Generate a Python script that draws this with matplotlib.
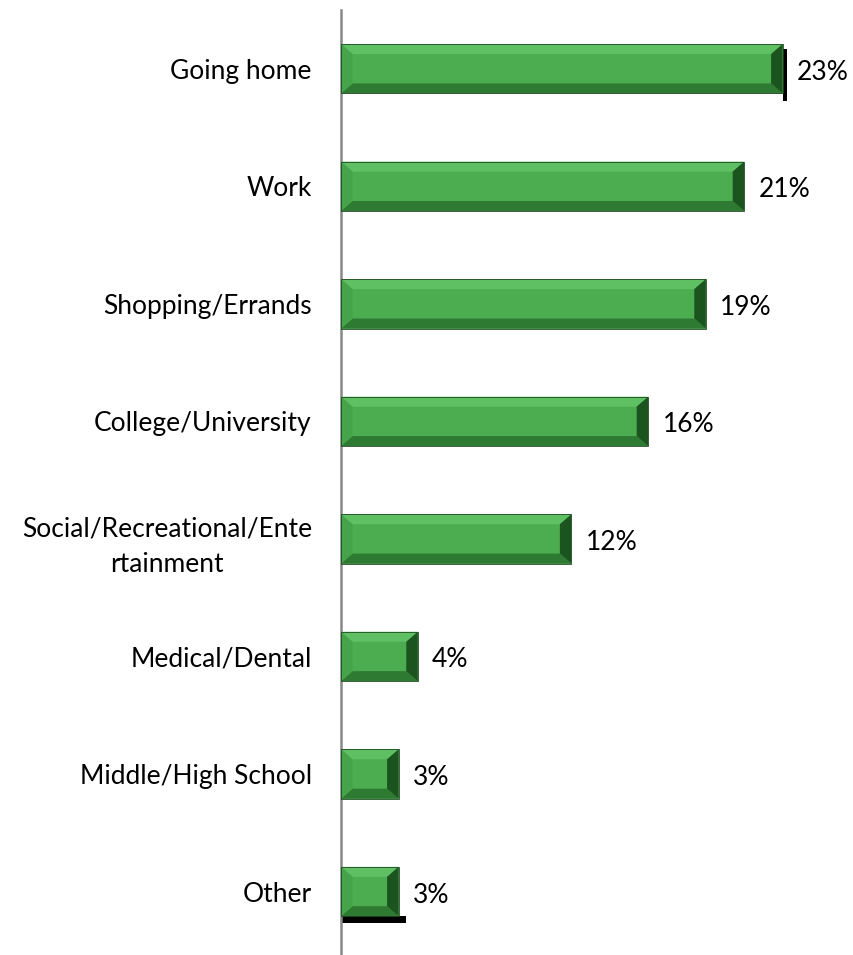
import numpy as np
import matplotlib.pyplot as plt
from matplotlib.patches import Polygon, Rectangle

# trip purposes, top to bottom
categories = ['Going home', 'Work', 'Shopping/Errands', 'College/University',
              'Social/Recreational/Ente\nrtainment', 'Medical/Dental',
              'Middle/High School', 'Other']
values = [23, 21, 19, 16, 12, 4, 3, 3]

plt.rcParams['font.family'] = ['Lato', 'DejaVu Sans']

fig = plt.figure(figsize=(8.54, 9.55), dpi=100)
ax = fig.add_axes([341 / 854, 0.0, 1 - 341 / 854, 945 / 955])

n = len(categories)
ypos = np.arange(n)
h = 0.42
bx = 0.6       # bevel width along x (in %)
by = 0.085     # bevel width along y

face = '#4cac50'
top_c = '#5fbf63'
bot_c = '#2e7a32'
left_c = '#45a449'
right_c = '#1c5420'

for y, v in zip(ypos, values):
    x0, x1 = 0, v
    y0, y1 = y + h / 2, y - h / 2   # inverted y axis: y1 is the top edge
    ax.add_patch(Rectangle((x0, y1), v, h, facecolor=face, edgecolor='none', zorder=2))
    # bevel facets
    ax.add_patch(Polygon([(x0, y1), (x1, y1), (x1 - bx, y1 + by), (x0 + bx, y1 + by)],
                         facecolor=top_c, edgecolor='none', zorder=3))
    ax.add_patch(Polygon([(x0, y0), (x1, y0), (x1 - bx, y0 - by), (x0 + bx, y0 - by)],
                         facecolor=bot_c, edgecolor='none', zorder=3))
    ax.add_patch(Polygon([(x1, y1), (x1, y0), (x1 - bx, y0 - by), (x1 - bx, y1 + by)],
                         facecolor=right_c, edgecolor='none', zorder=3))
    ax.add_patch(Polygon([(x0, y1), (x0, y0), (x0 + bx, y0 - by), (x0 + bx, y1 + by)],
                         facecolor=left_c, edgecolor='none', zorder=3))
    ax.add_patch(Rectangle((x0, y1), v, h, facecolor='none', edgecolor='#1f4a22',
                           linewidth=0.6, zorder=4))
    ax.text(v + 0.75, y + 0.03, f'{v}%', va='center', ha='left', fontsize=19, color='black')

# dark drop shadows on the first and last bar
ax.add_patch(Rectangle((values[0], -h / 2 + 0.04), 0.22, h + 0.02, facecolor='black',
                       edgecolor='none', zorder=1))
ax.add_patch(Rectangle((0, n - 1 + h / 2), values[-1] + 0.4, 0.06, facecolor='black',
                       edgecolor='none', zorder=1))

ax.set_xlim(0, 513 / 19.2)
ax.set_ylim(n - 0.46, -0.5)
ax.set_yticks(ypos)
ax.set_yticklabels(categories, fontsize=19, multialignment='center', linespacing=1.55)
ax.tick_params(axis='y', length=0, pad=21)
ax.set_xticks([])
for s in ['top', 'right', 'bottom']:
    ax.spines[s].set_visible(False)
ax.spines['left'].set_color('#888888')
ax.spines['left'].set_linewidth(1.8)

fig.savefig('out.png', dpi=100)
